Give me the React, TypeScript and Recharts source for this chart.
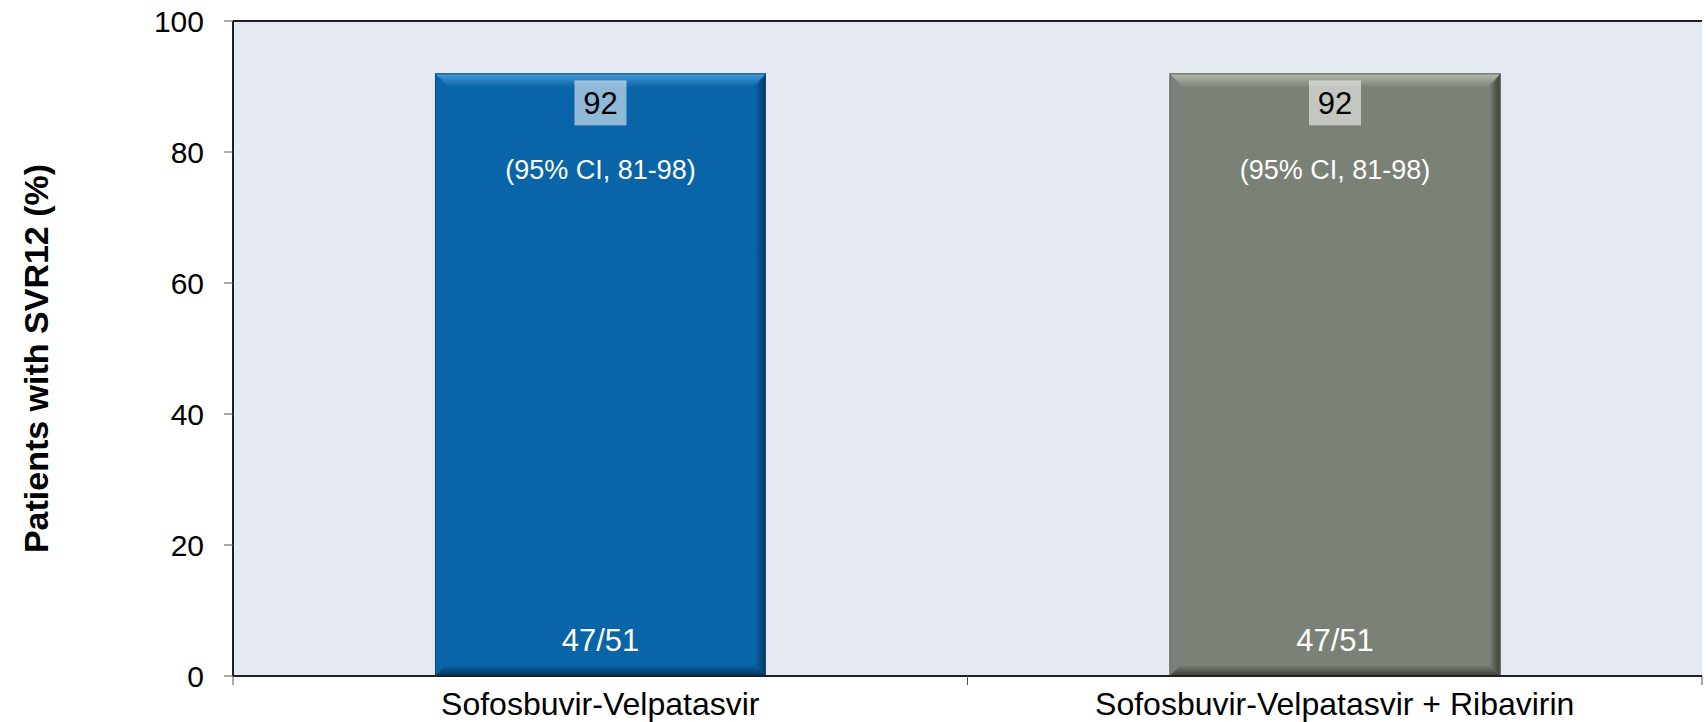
import {
  Bar,
  BarChart,
  CartesianGrid,
  LabelList,
  ReferenceLine,
  XAxis,
  YAxis,
} from "recharts";

const categories = [
  "Sofosbuvir-Velpatasvir",
  "Sofosbuvir-Velpatasvir + Ribavirin",
];
const svrValues = [92, 92];
const ciLabels = ["(95% CI, 81-98)", "(95% CI, 81-98)"];
const countLabels = ["47/51", "47/51"];
const yTicks = [0, 20, 40, 60, 80, 100];

// bevel palette per bar: base, light top edge, dark edge, outline
const barPalettes = [
  { base: "#0964a8", light: "#4a9ad8", dark: "#03345c", line: "#0a4f86" },
  { base: "#7b8176", light: "#b6bcb0", dark: "#383c35", line: "#5f655b" },
];

const FONT = "'Liberation Sans', Arial, sans-serif";
const AXIS = "#1f1f1f";

const data = categories.map((name, i) => ({
  name,
  value: svrValues[i],
  ci: ciLabels[i],
  count: countLabels[i],
}));

function BevelBar(props: any) {
  const { x, y, width, height, payload } = props;
  if (!width || !height) return null;
  const i = Math.max(0, categories.indexOf(payload?.name));
  const p = barPalettes[i % barPalettes.length];
  const b = 14;
  const s = 11;
  const id = `bv${i}`;
  return (
    <g>
      <defs>
        <linearGradient id={`${id}t`} x1="0" y1="0" x2="0" y2="1">
          <stop offset="0" stopColor={p.light} />
          <stop offset="1" stopColor={p.base} />
        </linearGradient>
        <linearGradient id={`${id}r`} x1="0" y1="0" x2="1" y2="0">
          <stop offset="0" stopColor={p.base} />
          <stop offset="1" stopColor={p.dark} />
        </linearGradient>
        <linearGradient id={`${id}b`} x1="0" y1="0" x2="0" y2="1">
          <stop offset="0" stopColor={p.base} />
          <stop offset="1" stopColor={p.dark} />
        </linearGradient>
      </defs>
      <rect x={x} y={y} width={width} height={height} fill={p.base} />
      <polygon
        points={`${x},${y + height} ${x + width},${y + height} ${x + width - s},${y + height - s} ${x + s},${y + height - s}`}
        fill={`url(#${id}b)`}
      />
      <polygon
        points={`${x + width},${y} ${x + width},${y + height} ${x + width - s},${y + height - s} ${x + width - s},${y + b}`}
        fill={`url(#${id}r)`}
      />
      <polygon
        points={`${x},${y} ${x + width},${y} ${x + width - b},${y + b} ${x + b},${y + b}`}
        fill={`url(#${id}t)`}
      />
      <rect
        x={x + 0.5}
        y={y + 0.5}
        width={width - 1}
        height={height - 1}
        fill="none"
        stroke={p.line}
        strokeWidth={1}
      />
    </g>
  );
}

function ValueLabel(props: any) {
  const { x, y, width, value } = props;
  const cx = x + width / 2;
  return (
    <g>
      <rect
        x={cx - 26}
        y={y + 7}
        width={52}
        height={45}
        fill="#ffffff"
        fillOpacity={0.55}
      />
      <text
        x={cx}
        y={y + 30}
        textAnchor="middle"
        dominantBaseline="central"
        fontSize={31}
        fontFamily={FONT}
        fill="#000"
      >
        {value}
      </text>
    </g>
  );
}

function CiLabel(props: any) {
  const { x, y, width, value } = props;
  return (
    <text
      x={x + width / 2}
      y={y + 97}
      textAnchor="middle"
      dominantBaseline="central"
      fontSize={27}
      fontFamily={FONT}
      fill="#fff"
    >
      {value}
    </text>
  );
}

function CountLabel(props: any) {
  const { x, y, width, height, value } = props;
  return (
    <text
      x={x + width / 2}
      y={y + height - 36}
      textAnchor="middle"
      dominantBaseline="central"
      fontSize={31}
      fontFamily={FONT}
      fill="#fff"
    >
      {value}
    </text>
  );
}

function CategoryTick(props: any) {
  const { x, y, payload, index } = props;
  const half = payload?.offset ?? 0;
  const top = y - 11;
  return (
    <g>
      <line x1={x - half} y1={top} x2={x - half} y2={top + 9} stroke="#555" />
      {index === categories.length - 1 && (
        <line x1={x + half} y1={top} x2={x + half} y2={top + 9} stroke="#555" />
      )}
      <text
        x={x}
        y={y}
        dy={28}
        textAnchor="middle"
        fontSize={32}
        fontFamily={FONT}
        fill="#000"
      >
        {payload.value}
      </text>
    </g>
  );
}

function YTitle(props: any) {
  const vb = props.viewBox || {};
  const cy = (vb.y ?? 0) + (vb.height ?? 0) / 2 + 10;
  return (
    <text
      x={36}
      y={cy}
      transform={`rotate(-90 36 ${cy})`}
      textAnchor="middle"
      dominantBaseline="central"
      fontSize={34}
      fontWeight="bold"
      fontFamily={FONT}
      fill="#000"
    >
      Patients with SVR12 (%)
    </text>
  );
}

export default function App() {
  return (
    <div style={{ position: "absolute", left: 0, top: 0, background: "#fff" }}>
      <BarChart
        width={1708}
        height={722}
        data={data}
        margin={{ top: 21, right: 6, bottom: 0, left: 0 }}
        barCategoryGap="27.5%"
      >
        <CartesianGrid
          fill="#e5e9f1"
          horizontal={false}
          vertical={false}
        />
        <XAxis
          dataKey="name"
          tick={<CategoryTick />}
          tickLine={false}
          tickSize={9}
          tickMargin={2}
          height={46}
          interval={0}
          axisLine={{ stroke: AXIS, strokeWidth: 2 }}
        />
        <YAxis
          domain={[0, 100]}
          ticks={yTicks}
          width={233}
          tickSize={9}
          tickMargin={20}
          tick={{ fill: "#000", fontSize: 30, fontFamily: FONT }}
          tickLine={{ stroke: "#555" }}
          axisLine={{ stroke: AXIS, strokeWidth: 2 }}
          label={<YTitle />}
        />
        <YAxis
          yAxisId="right"
          orientation="right"
          domain={[0, 100]}
          width={0}
          tick={false}
          tickLine={false}
          axisLine={{ stroke: AXIS, strokeWidth: 2 }}
        />
        <ReferenceLine y={100} stroke={AXIS} strokeWidth={2} />
        <Bar dataKey="value" shape={<BevelBar />} isAnimationActive={false}>
          <LabelList dataKey="value" content={<ValueLabel />} />
          <LabelList dataKey="ci" content={<CiLabel />} />
          <LabelList dataKey="count" content={<CountLabel />} />
        </Bar>
      </BarChart>
    </div>
  );
}
